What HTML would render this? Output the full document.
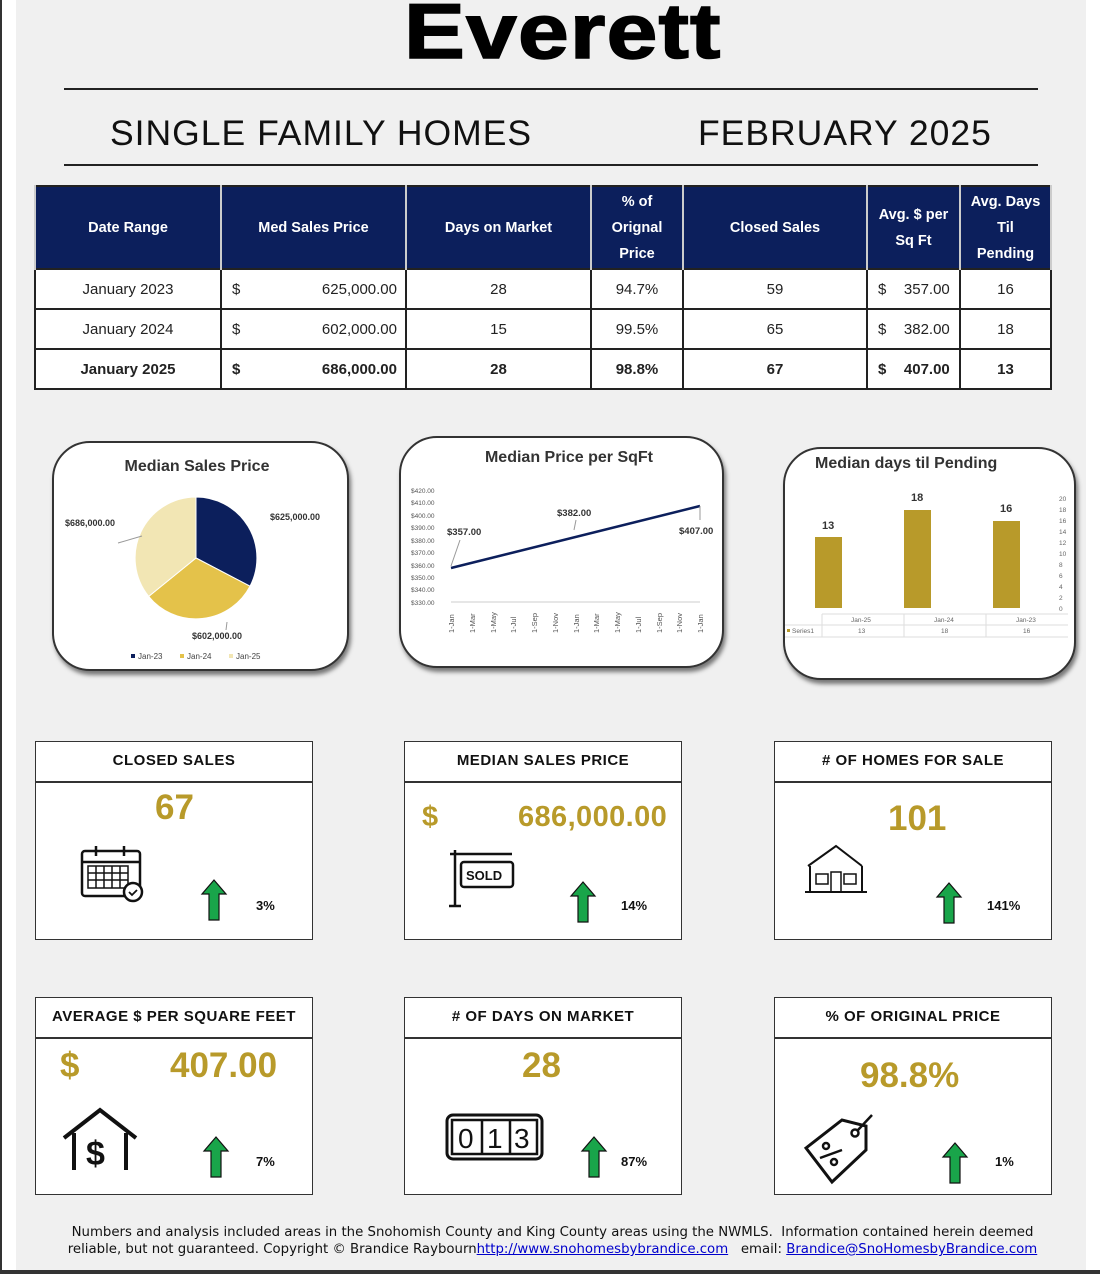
<!DOCTYPE html>
<html><head><meta charset="utf-8">
<style>
*{margin:0;padding:0;box-sizing:border-box}
body{width:1100px;height:1274px;background:#fff;position:relative;overflow:hidden;font-family:"Liberation Sans",sans-serif}
.a{position:absolute}
#pg{left:16px;top:0;width:1070px;height:1270px;background:#f0f0f0}
.hr{height:2px;background:#222;left:64px;width:974px}
table{border-collapse:collapse;position:absolute;left:34px;top:185px;width:1018px}
td{border:2px solid #222;font-size:15px;color:#222;text-align:center;height:40px;background:#fff}
th{background:#0c1f5c;color:#fff;font-size:14.5px;font-weight:bold;border-left:2px solid #ccc;border-right:2px solid #ccc;height:83px;line-height:26px}
table{border:2px solid #222}
.b td{font-weight:bold}
.card{background:#fff;border:2px solid #333;border-radius:38px;box-shadow:2px 4px 4px #777}
.k{background:#fff;border:1.5px solid #333}
.kh{position:absolute;left:0;top:0;right:0;height:41px;border-bottom:2px solid #333;text-align:center;line-height:38px;font-size:15px;font-weight:bold;letter-spacing:.5px;color:#111}
.big{position:absolute;color:#b89a2a;font-weight:bold;font-size:35px}
.pct{position:absolute;font-size:13px;font-weight:bold;color:#111}
</style></head><body>
<div class="a" style="left:0;top:0;width:2px;height:1274px;background:#333"></div>
<div class="a" id="pg"></div>
<div class="a" style="left:0;top:1270px;width:1100px;height:4px;background:#333"></div>
<div class="a" style="left:404px;top:-14px;font-size:78px;font-weight:bold;color:#000;letter-spacing:1px;transform:scaleX(1.17);transform-origin:0 0;-webkit-text-stroke:1.5px #000">Everett</div>
<div class="a hr" style="top:88px"></div>
<div class="a" style="left:110px;top:113px;font-size:35.5px;color:#111;letter-spacing:1px">SINGLE FAMILY HOMES</div>
<div class="a" style="left:698px;top:113px;font-size:35.5px;color:#111;letter-spacing:1px">FEBRUARY 2025</div>
<div class="a hr" style="top:164px"></div>

<table>
<tr><th style="width:186px">Date Range</th><th style="width:185px">Med Sales Price</th><th style="width:185px">Days on Market</th><th style="width:92px">% of<br>Orignal<br>Price</th><th style="width:184px">Closed Sales</th><th style="width:93px">Avg. $ per<br>Sq Ft</th><th>Avg. Days<br>Til<br>Pending</th></tr>
<tr><td>January 2023</td><td><span style="float:left;padding-left:10px">$</span><span style="float:right;padding-right:8px">625,000.00</span></td><td>28</td><td>94.7%</td><td>59</td><td><span style="float:left;padding-left:10px">$</span>&nbsp;&nbsp;357.00</td><td>16</td></tr>
<tr><td>January 2024</td><td><span style="float:left;padding-left:10px">$</span><span style="float:right;padding-right:8px">602,000.00</span></td><td>15</td><td>99.5%</td><td>65</td><td><span style="float:left;padding-left:10px">$</span>&nbsp;&nbsp;382.00</td><td>18</td></tr>
<tr class="b"><td>January 2025</td><td><span style="float:left;padding-left:10px">$</span><span style="float:right;padding-right:8px">686,000.00</span></td><td>28</td><td>98.8%</td><td>67</td><td><span style="float:left;padding-left:10px">$</span>&nbsp;&nbsp;407.00</td><td>13</td></tr>
</table>

<!-- pie card -->
<div class="a card" style="left:52px;top:441px;width:297px;height:230px"></div>
<div class="a" style="left:52px;top:458px;width:290px;text-align:center;font-size:16px;font-weight:bold;color:#333">Median Sales Price</div>
<svg class="a" style="left:0;top:0" width="1100" height="700">
<path d="M196,558 L196,497 A61,61 0 0 1 250,586.2 Z" fill="#0c1f5c" stroke="#fff"/>
<path d="M196,558 L250,586.2 A61,61 0 0 1 148.7,596.4 Z" fill="#e4c24a" stroke="#fff"/>
<path d="M196,558 L148.7,596.4 A61,61 0 0 1 196,497 Z" fill="#f2e6b4" stroke="#fff"/>
<line x1="118" y1="543" x2="142" y2="536" stroke="#999"/>
<line x1="227" y1="622" x2="226" y2="630" stroke="#999"/>
<g font-family="Liberation Sans" font-size="9" font-weight="bold" fill="#333">
<text x="65" y="526">$686,000.00</text><text x="270" y="520">$625,000.00</text><text x="192" y="639">$602,000.00</text></g>
<g font-family="Liberation Sans" font-size="8" fill="#444">
<rect x="131" y="654" width="4" height="4" fill="#0c1f5c"/><text x="138" y="659">Jan-23</text>
<rect x="180" y="654" width="4" height="4" fill="#e4c24a"/><text x="187" y="659">Jan-24</text>
<rect x="229" y="654" width="4" height="4" fill="#f2e6b4"/><text x="236" y="659">Jan-25</text></g>
</svg>

<!-- line card -->
<div class="a card" style="left:399px;top:436px;width:325px;height:232px"></div>
<div class="a" style="left:399px;top:449px;width:340px;text-align:center;font-size:16px;font-weight:bold;color:#333">Median Price per SqFt</div>
<svg class="a" style="left:0;top:0" width="1100" height="700">
<g font-family="Liberation Sans" font-size="6.5" fill="#555">
<text x="411" y="493">$420.00</text><text x="411" y="505">$410.00</text><text x="411" y="518">$400.00</text><text x="411" y="530">$390.00</text><text x="411" y="543">$380.00</text><text x="411" y="555">$370.00</text><text x="411" y="568">$360.00</text><text x="411" y="580">$350.00</text><text x="411" y="592">$340.00</text><text x="411" y="605">$330.00</text>
</g>
<line x1="451" y1="602" x2="700" y2="602" stroke="#ccc"/>
<g font-family="Liberation Sans" font-size="7.5" fill="#555">
<text transform="translate(454,633) rotate(-90)">1-Jan</text><text transform="translate(475,633) rotate(-90)">1-Mar</text><text transform="translate(496,633) rotate(-90)">1-May</text><text transform="translate(516,633) rotate(-90)">1-Jul</text><text transform="translate(537,633) rotate(-90)">1-Sep</text><text transform="translate(558,633) rotate(-90)">1-Nov</text><text transform="translate(579,633) rotate(-90)">1-Jan</text><text transform="translate(599,633) rotate(-90)">1-Mar</text><text transform="translate(620,633) rotate(-90)">1-May</text><text transform="translate(641,633) rotate(-90)">1-Jul</text><text transform="translate(662,633) rotate(-90)">1-Sep</text><text transform="translate(682,633) rotate(-90)">1-Nov</text><text transform="translate(703,633) rotate(-90)">1-Jan</text>
</g>
<line x1="451" y1="568" x2="700" y2="506" stroke="#0c1f5c" stroke-width="2.5"/>
<line x1="451" y1="566" x2="460" y2="540" stroke="#999"/><line x1="574" y1="530" x2="576" y2="520" stroke="#999"/><line x1="700" y1="506" x2="700" y2="520" stroke="#999"/>
<g font-family="Liberation Sans" font-size="9.5" font-weight="bold" fill="#333"><text x="447" y="535">$357.00</text><text x="557" y="516">$382.00</text><text x="679" y="534">$407.00</text></g>
</svg>

<!-- bar card -->
<div class="a card" style="left:783px;top:447px;width:293px;height:233px"></div>
<div class="a" style="left:815px;top:455px;font-size:16px;font-weight:bold;color:#333">Median days til Pending</div>
<svg class="a" style="left:0;top:0" width="1100" height="700">
<rect x="815" y="537" width="27" height="71" fill="#b89a2a"/>
<rect x="904" y="510" width="27" height="98" fill="#b89a2a"/>
<rect x="993" y="521" width="27" height="87" fill="#b89a2a"/>
<g font-family="Liberation Sans" font-size="11" font-weight="bold" fill="#333"><text x="822" y="529">13</text><text x="911" y="501">18</text><text x="1000" y="512">16</text></g>
<g font-family="Liberation Sans" font-size="6.5" fill="#666">
<text x="1059" y="501">20</text><text x="1059" y="512">18</text><text x="1059" y="523">16</text><text x="1059" y="534">14</text><text x="1059" y="545">12</text><text x="1059" y="556">10</text><text x="1059" y="567">8</text><text x="1059" y="578">6</text><text x="1059" y="589">4</text><text x="1059" y="600">2</text><text x="1059" y="611">0</text>
<text x="851" y="622">Jan-25</text><text x="934" y="622">Jan-24</text><text x="1016" y="622">Jan-23</text>
<text x="792" y="633">Series1</text><text x="858" y="633">13</text><text x="941" y="633">18</text><text x="1023" y="633">16</text></g>
<rect x="787" y="629" width="3" height="3" fill="#b89a2a"/>
<g stroke="#ddd" fill="none"><path d="M822,614 H1068 M785,625 H1068 M785,637 H1068 M822,614 V637 M904,614 V637 M986,614 V637"/></g>
</svg>

<!-- KPI cards -->
<div class="a k" style="left:35px;top:741px;width:278px;height:199px"><div class="kh">CLOSED SALES</div></div>
<div class="a k" style="left:404px;top:741px;width:278px;height:199px"><div class="kh">MEDIAN SALES PRICE</div></div>
<div class="a k" style="left:774px;top:741px;width:278px;height:199px"><div class="kh"># OF HOMES FOR SALE</div></div>
<div class="a k" style="left:35px;top:997px;width:278px;height:198px"><div class="kh">AVERAGE $ PER SQUARE FEET</div></div>
<div class="a k" style="left:404px;top:997px;width:278px;height:198px"><div class="kh"># OF DAYS ON MARKET</div></div>
<div class="a k" style="left:774px;top:997px;width:278px;height:198px"><div class="kh">% OF ORIGINAL PRICE</div></div>

<div class="big" style="left:155px;top:788px">67</div>
<div class="big" style="left:422px;top:801px;font-size:29px">$</div>
<div class="big" style="left:518px;top:801px;font-size:29px;letter-spacing:.4px">686,000.00</div>
<div class="big" style="left:888px;top:799px">101</div>
<div class="big" style="left:60px;top:1046px">$</div>
<div class="big" style="left:170px;top:1046px">407.00</div>
<div class="big" style="left:522px;top:1046px">28</div>
<div class="big" style="left:860px;top:1056px">98.8%</div>

<div class="pct" style="left:256px;top:898px">3%</div>
<div class="pct" style="left:621px;top:898px">14%</div>
<div class="pct" style="left:987px;top:898px">141%</div>
<div class="pct" style="left:256px;top:1154px">7%</div>
<div class="pct" style="left:621px;top:1154px">87%</div>
<div class="pct" style="left:995px;top:1154px">1%</div>

<svg class="a" style="left:0;top:0" width="1100" height="1274">
<defs><path id="ar" d="M12,0 L24,14 L17,14 L17,40 L7,40 L7,14 L0,14 Z" fill="#19a54a" stroke="#111" stroke-width="1.2"/></defs>
<use href="#ar" x="202" y="880"/><use href="#ar" x="571" y="882"/><use href="#ar" x="937" y="883"/>
<use href="#ar" x="204" y="1137"/><use href="#ar" x="582" y="1137"/><use href="#ar" x="943" y="1143"/>
<g fill="none" stroke="#111" stroke-width="2.5">
<rect x="82" y="851" width="58" height="45" rx="3"/><line x1="82" y1="862" x2="140" y2="862"/><line x1="96" y1="846" x2="96" y2="856"/><line x1="124" y1="846" x2="124" y2="856"/>
<path d="M88,866 h40 v22 h-40z M88,873 h40 M88,880 h40 M96,866 v22 M104,866 v22 M112,866 v22 M120,866 v22" stroke-width="1.5"/>
<circle cx="133" cy="892" r="9" fill="#fff"/><path d="M129,892 l3,3 l5,-5" stroke-width="1.8"/>
<line x1="455" y1="850" x2="455" y2="906"/><line x1="450" y1="854" x2="512" y2="854"/><line x1="449" y1="906" x2="461" y2="906"/>
<rect x="461" y="862" width="52" height="25" rx="3"/>
<path d="M808,866 L836,846 L862,866 M810,866 V892 H862 V866 M805,892 H867" stroke-width="2"/>
<path d="M816,874 h12 v10 h-12z M844,874 h12 v10 h-12z M831,872 h10 v20 h-10z" stroke-width="1.5"/>
<path d="M64,1138 L100,1110 L136,1138 M74,1133 V1170 M126,1133 V1170" stroke-width="4"/>
<rect x="447" y="1115" width="95" height="44" rx="6" stroke-width="3"/><rect x="452" y="1120" width="85" height="34"/>
<line x1="482" y1="1120" x2="482" y2="1154"/><line x1="510" y1="1120" x2="510" y2="1154"/>
<path d="M806,1148 L842,1120 L866,1126 L866,1150 L832,1182 Z" stroke-width="3"/>
<circle cx="855" cy="1133" r="3.5"/><line x1="858" y1="1130" x2="872" y2="1115"/>
<circle cx="826" cy="1146" r="3"/><circle cx="834" cy="1162" r="3"/><line x1="820" y1="1158" x2="842" y2="1150"/>
</g>
<text x="466" y="880" font-family="Liberation Sans" font-weight="bold" font-size="13" fill="#111">SOLD</text>
<text x="86" y="1165" font-family="Liberation Sans" font-weight="bold" font-size="34" fill="#111">$</text>
<g font-family="Liberation Sans" font-size="28" fill="#111"><text x="458" y="1148">0</text><text x="487" y="1148">1</text><text x="514" y="1148">3</text></g>
</svg>

<div class="a" style="left:55px;top:1224px;width:995px;text-align:center;font-family:'DejaVu Sans',sans-serif;font-size:13.3px;line-height:17px;color:#111">Numbers and analysis included areas in the Snohomish County and King County areas using the NWMLS.&nbsp; Information contained herein deemed reliable, but not guaranteed. Copyright © Brandice Raybourn<span style="color:#00c;text-decoration:underline">http://www.snohomesbybrandice.com</span>&nbsp;&nbsp; email: <span style="color:#00c;text-decoration:underline">Brandice@SnoHomesbyBrandice.com</span></div>
</body></html>
